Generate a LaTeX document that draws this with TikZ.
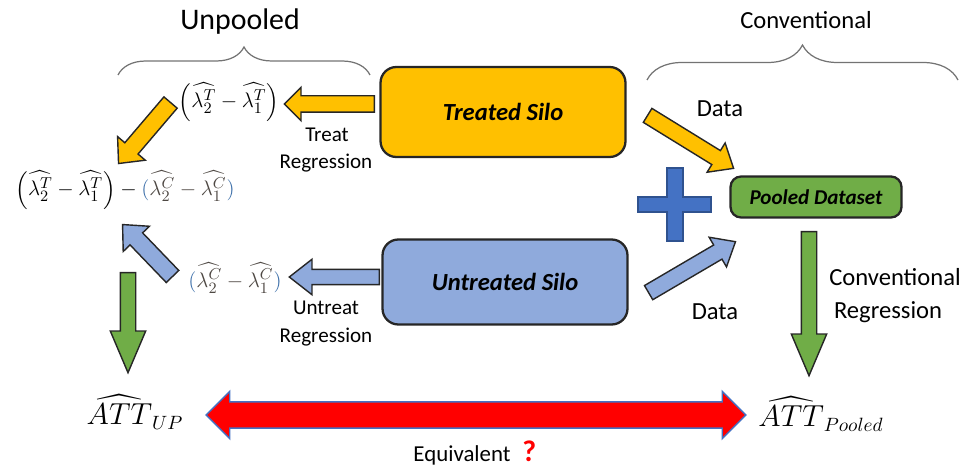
\documentclass[tikz,border=0pt]{standalone}
\usepackage{amsmath}
\usepackage{fontspec}
\setmainfont{Carlito}
\usetikzlibrary{shapes.arrows, decorations.pathreplacing, calc}

\definecolor{silogold}{HTML}{FFC000}
\definecolor{siloblue}{HTML}{8FAADC}
\definecolor{poolgreen}{HTML}{70AD47}
\definecolor{plusblue}{HTML}{4472C4}
\definecolor{plusedge}{HTML}{2F528F}
\definecolor{ctrlparen}{HTML}{3A6DA8}
\definecolor{ctrlgray}{HTML}{4E4843}

% block arrow: name, style, tail, tip
\newcommand{\blockarrow}[4]{%
  \path let \p1=($(#4)-(#3)$), \n1={atan2(\y1,\x1)}, \n2={veclen(\x1,\y1)} in
    node[#2, minimum height=\n2, rotate=\n1, anchor=tail] (#1) at (#3) {};}
% control-group difference
\newcommand{\ctrldiff}{{\color{ctrlparen}(}{\color{ctrlgray}\widehat{\lambda_2^C}-\widehat{\lambda_1^C}}{\color{ctrlparen})}}

\tikzset{
  silo/.style={draw=black!85, line width=1.3pt, rounded corners=9pt,
    font=\bfseries\itshape\fontsize{14}{16}\selectfont},
  lbl/.style={font=\fontsize{12}{14}\selectfont},
  biglbl/.style={font=\fontsize{14}{16}\selectfont},
  topbrace/.style={decorate, decoration={brace, amplitude=#1}, draw=black!55, line width=0.7pt},
  fat/.style n args={3}{single arrow, draw=black!85, line width=0.8pt, inner xsep=0pt,
    inner ysep=#1, single arrow head extend=#2, single arrow tip angle=#3},
  formula/.style={font=\fontsize{13}{15}\selectfont},
}

\begin{document}
\begin{tikzpicture}[x=0.02cm, y=-0.02cm]
  \useasboundingbox (0,0) rectangle (966,469);

  % headings
  \node[font=\fontsize{17}{20}\selectfont] (unpooled) at (240,22) {Unpooled};
  \node[biglbl] (conv) at (806,20) {Conventional};
  \draw[topbrace=0.56cm] (118,75) -- (370,75);
  \draw[topbrace=0.7cm] (647,80) -- (958,80);

  % silos
  \node[silo, fill=silogold, minimum width=4.9cm, minimum height=1.8cm] (treated) at (503,112) {Treated Silo};
  \node[silo, fill=siloblue, minimum width=4.9cm, minimum height=1.7cm] (untreated) at (505,282) {Untreated Silo};
  \node[silo, fill=poolgreen, rounded corners=6pt, minimum width=3.42cm, minimum height=0.82cm,
    font=\bfseries\itshape\fontsize{12}{14}\selectfont] (pooled) at (816,197) {Pooled Dataset};

  % plus sign
  \draw[plusedge, fill=plusblue, line width=1pt] (667,168) -- (683,168) -- (683,197) -- (711,197)
    -- (711,212) -- (683,212) -- (683,241) -- (667,241) -- (667,212) -- (638,212) -- (638,197)
    -- (667,197) -- cycle;

  % estimates
  \node[formula] (tdiff) at (229,102) {$\left(\widehat{\lambda_2^T}-\widehat{\lambda_1^T}\right)$};
  \node[formula] (cdiff) at (235,278) {$\ctrldiff$};
  \node[formula] (did) at (125,190) {$\left(\widehat{\lambda_2^T}-\widehat{\lambda_1^T}\right)-\ctrldiff$};
  \node[font=\fontsize{16}{19}\selectfont] (attup) at (135,412) {$\widehat{ATT}_{UP}$};
  \node[font=\fontsize{16}{19}\selectfont] (attpool) at (821,414) {$\widehat{ATT}_{Pooled}$};

  % labels
  \node[lbl] (treatlbl) at (327,135) {Treat};
  \node[lbl] (treatreg) at (326,163) {Regression};
  \node[lbl] (untreatlbl) at (326,308) {Untreat};
  \node[lbl] (untreatreg) at (326,337) {Regression};
  \node[biglbl] (datatop) at (720,109) {Data};
  \node[biglbl] (databot) at (715,312) {Data};
  \node[biglbl] (convlbl) at (895,277) {Conventional};
  \node[biglbl] (convreg) at (888,312) {Regression};
  \node[font=\fontsize{13}{15}\selectfont] (equiv) at (462,455) {Equivalent};
  \node[font=\bfseries\fontsize{17}{18}\selectfont, text=red, inner sep=0pt, anchor=base west]
    (qmark) at ([xshift=3pt]equiv.base east) {?};

  % arrow ends
  \coordinate (ta) at (375,104);  \coordinate (tb) at (285,104);
  \coordinate (tc) at (171,102);  \coordinate (td) at (119,163);
  \coordinate (ca) at (380,277);  \coordinate (cb) at (290,277);
  \coordinate (cc) at (173,277);  \coordinate (cd) at (123,225);
  \coordinate (ua) at (128,272);  \coordinate (ub) at (128,372);
  \coordinate (pa) at (647,115);  \coordinate (pb) at (733,168);
  \coordinate (pc) at (648,293);  \coordinate (pd) at (735,242);
  \coordinate (ra) at (809,231);  \coordinate (rb) at (809,375);

  % block arrows
  \blockarrow{treat2diff}{fat={0.15cm}{0.17cm}{90}, fill=silogold}{ta}{tb}
  \blockarrow{diff2did}{fat={0.16cm}{0.19cm}{85}, fill=silogold}{tc}{td}
  \blockarrow{ctrl2diff}{fat={0.14cm}{0.2cm}{76}, fill=siloblue}{ca}{cb}
  \blockarrow{cdiff2did}{fat={0.16cm}{0.19cm}{85}, fill=siloblue}{cc}{cd}
  \blockarrow{did2att}{fat={0.14cm}{0.2cm}{46}, fill=poolgreen}{ua}{ub}
  \blockarrow{treat2pool}{fat={0.15cm}{0.18cm}{80}, fill=silogold}{pa}{pb}
  \blockarrow{ctrl2pool}{fat={0.15cm}{0.18cm}{80}, fill=siloblue}{pc}{pd}
  \blockarrow{pool2att}{fat={0.14cm}{0.2cm}{46}, fill=poolgreen}{ra}{rb}

  % equivalence
  \node[double arrow, draw=plusblue, fill=red, line width=0.8pt, inner xsep=0pt, inner ysep=0.25cm,
    double arrow head extend=0.21cm, double arrow tip angle=90, minimum height=10.8cm] (equivarrow) at (476,415) {};
\end{tikzpicture}
\end{document}
